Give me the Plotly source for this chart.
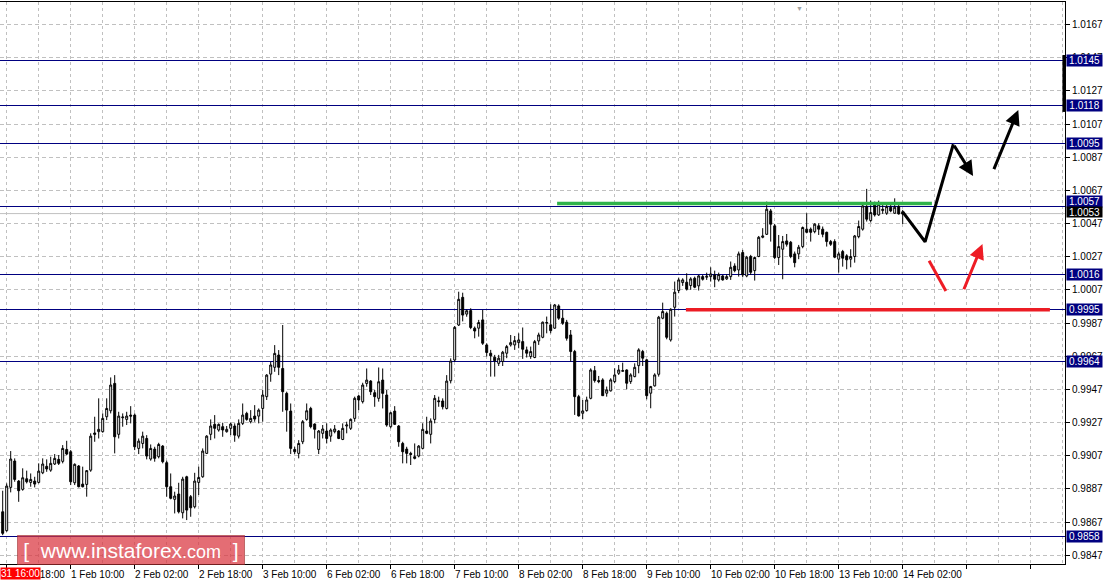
import plotly.graph_objects as go

# ---------------- data (H1 candles) ----------------
opens = [
    0.98732, 0.98618, 0.98879, 0.99038, 0.98917, 0.98867, 0.98931, 0.98909, 0.98917, 0.98909,
    0.98967, 0.99006, 0.98983, 0.99020, 0.99048, 0.99036, 0.99108, 0.99094, 0.98907, 0.99008,
    0.98899, 0.98897, 0.98983, 0.99207, 0.99215, 0.99215, 0.99305, 0.99341, 0.99506, 0.99199,
    0.99299, 0.99289, 0.99315, 0.99315, 0.99114, 0.99144, 0.99174, 0.99050, 0.99110, 0.99064,
    0.99128, 0.99028, 0.98883, 0.98807, 0.98839, 0.98726, 0.98943, 0.98823, 0.98762, 0.98909,
    0.98943, 0.99084, 0.99199, 0.99259, 0.99225, 0.99245, 0.99215, 0.99235, 0.99249, 0.99188,
    0.99265, 0.99325, 0.99275, 0.99309, 0.99309, 0.99355, 0.99426, 0.99562, 0.99603, 0.99677,
    0.99596, 0.99446, 0.99339, 0.99108, 0.99084, 0.99154, 0.99289, 0.99355, 0.99261, 0.99108,
    0.99205, 0.99219, 0.99188, 0.99215, 0.99219, 0.99168, 0.99249, 0.99235, 0.99295, 0.99430,
    0.99396, 0.99506, 0.99520, 0.99450, 0.99416, 0.99526, 0.99436, 0.99245, 0.99339, 0.99249,
    0.99144, 0.99110, 0.99084, 0.99064, 0.99068, 0.99114, 0.99219, 0.99199, 0.99289, 0.99401,
    0.99400, 0.99355, 0.99522, 0.99647, 0.99858, 1.00025, 0.99924, 0.99945, 0.99839, 0.99839,
    0.99889, 0.99738, 0.99688, 0.99664, 0.99627, 0.99638, 0.99688, 0.99738, 0.99738, 0.99752,
    0.99758, 0.99708, 0.99668, 0.99662, 0.99762, 0.99784, 0.99869, 0.99859, 0.99839, 0.99973,
    0.99899, 0.99875, 0.99798, 0.99698, 0.99426, 0.99326, 0.99342, 0.99416, 0.99583, 0.99523,
    0.99527, 0.99447, 0.99461, 0.99517, 0.99567, 0.99579, 0.99587, 0.99517, 0.99547, 0.99613,
    0.99698, 0.99648, 0.99447, 0.99491, 0.99561, 0.99899, 0.99929, 0.99768, 0.99965, 1.00066,
    1.00114, 1.00116, 1.00096, 1.00140, 1.00094, 1.00150, 1.00146, 1.00150, 1.00160, 1.00130,
    1.00154, 1.00136, 1.00150, 1.00214, 1.00190, 1.00295, 1.00154, 1.00271, 1.00186, 1.00271,
    1.00387, 1.00405, 1.00546, 1.00456, 1.00265, 1.00315, 1.00365, 1.00357, 1.00287, 1.00287,
    1.00331, 1.00436, 1.00436, 1.00421, 1.00456, 1.00436, 1.00417, 1.00361, 1.00361, 1.00255,
    1.00301, 1.00275, 1.00255, 1.00271, 1.00391, 1.00436, 1.00572, 1.00488, 1.00582, 1.00522,
    1.00548, 1.00532, 1.00568, 1.00532, 1.00572, 1.00541,
]
highs = [
    0.98859, 0.98903, 0.99098, 0.99054, 0.98923, 0.98994, 0.98980, 0.98963, 0.98943, 0.99024,
    0.99054, 0.99048, 0.99064, 0.99080, 0.99074, 0.99134, 0.99160, 0.99104, 0.99024, 0.99014,
    0.99004, 0.98983, 0.99205, 0.99305, 0.99416, 0.99325, 0.99416, 0.99542, 0.99556, 0.99335,
    0.99325, 0.99335, 0.99369, 0.99325, 0.99174, 0.99215, 0.99194, 0.99138, 0.99124, 0.99148,
    0.99134, 0.99040, 0.98963, 0.98853, 0.98907, 0.98943, 0.98949, 0.98833, 0.98967, 0.99004,
    0.99114, 0.99194, 0.99289, 0.99315, 0.99265, 0.99269, 0.99249, 0.99269, 0.99265, 0.99289,
    0.99385, 0.99335, 0.99345, 0.99375, 0.99355, 0.99466, 0.99562, 0.99637, 0.99737, 0.99707,
    0.99858, 0.99456, 0.99385, 0.99124, 0.99164, 0.99285, 0.99385, 0.99365, 0.99265, 0.99225,
    0.99255, 0.99265, 0.99235, 0.99255, 0.99225, 0.99265, 0.99275, 0.99295, 0.99426, 0.99436,
    0.99510, 0.99596, 0.99526, 0.99466, 0.99602, 0.99596, 0.99466, 0.99335, 0.99369, 0.99255,
    0.99154, 0.99124, 0.99094, 0.99144, 0.99134, 0.99265, 0.99305, 0.99295, 0.99436, 0.99426,
    0.99416, 0.99556, 0.99657, 0.99852, 1.00059, 1.00053, 0.99952, 0.99959, 0.99849, 0.99889,
    0.99949, 0.99748, 0.99708, 0.99678, 0.99678, 0.99702, 0.99738, 0.99798, 0.99792, 0.99808,
    0.99843, 0.99728, 0.99728, 0.99768, 0.99812, 0.99879, 0.99909, 0.99983, 0.99985, 0.99983,
    0.99949, 0.99889, 0.99828, 0.99708, 0.99437, 0.99406, 0.99426, 0.99597, 0.99611, 0.99551,
    0.99537, 0.99487, 0.99537, 0.99597, 0.99617, 0.99631, 0.99591, 0.99567, 0.99627, 0.99718,
    0.99708, 0.99652, 0.99491, 0.99567, 0.99913, 0.99993, 0.99939, 0.99959, 1.00120, 1.00144,
    1.00140, 1.00170, 1.00146, 1.00150, 1.00160, 1.00160, 1.00174, 1.00206, 1.00186, 1.00174,
    1.00160, 1.00164, 1.00241, 1.00230, 1.00301, 1.00311, 1.00275, 1.00281, 1.00271, 1.00395,
    1.00442, 1.00602, 1.00558, 1.00468, 1.00401, 1.00395, 1.00407, 1.00365, 1.00301, 1.00341,
    1.00452, 1.00532, 1.00446, 1.00472, 1.00472, 1.00452, 1.00421, 1.00371, 1.00375, 1.00301,
    1.00311, 1.00285, 1.00315, 1.00401, 1.00488, 1.00588, 1.00679, 1.00608, 1.00602, 1.00608,
    1.00588, 1.00588, 1.00586, 1.00622, 1.00588, 1.00552,
]
lows = [
    0.98591, 0.98612, 0.98849, 0.98913, 0.98792, 0.98859, 0.98903, 0.98883, 0.98879, 0.98903,
    0.98959, 0.98973, 0.98973, 0.99014, 0.99014, 0.99024, 0.99074, 0.98893, 0.98893, 0.98879,
    0.98879, 0.98823, 0.98973, 0.99154, 0.99174, 0.99209, 0.99285, 0.99325, 0.99084, 0.99174,
    0.99245, 0.99255, 0.99265, 0.99104, 0.99080, 0.99114, 0.99048, 0.99040, 0.99034, 0.99054,
    0.99024, 0.98823, 0.98807, 0.98722, 0.98722, 0.98692, 0.98682, 0.98702, 0.98752, 0.98833,
    0.98937, 0.99080, 0.99164, 0.99174, 0.99215, 0.99184, 0.99209, 0.99194, 0.99154, 0.99174,
    0.99255, 0.99281, 0.99265, 0.99275, 0.99265, 0.99275, 0.99406, 0.99516, 0.99576, 0.99556,
    0.99335, 0.99215, 0.99080, 0.99080, 0.99054, 0.99140, 0.99281, 0.99235, 0.99174, 0.99080,
    0.99174, 0.99144, 0.99154, 0.99205, 0.99170, 0.99164, 0.99205, 0.99225, 0.99275, 0.99345,
    0.99385, 0.99486, 0.99436, 0.99365, 0.99396, 0.99355, 0.99245, 0.99235, 0.99255, 0.99124,
    0.99024, 0.99024, 0.99014, 0.99048, 0.99060, 0.99108, 0.99200, 0.99144, 0.99265, 0.99365,
    0.99349, 0.99349, 0.99506, 0.99637, 0.99852, 0.99880, 0.99908, 0.99833, 0.99778, 0.99788,
    0.99738, 0.99668, 0.99547, 0.99547, 0.99611, 0.99611, 0.99658, 0.99728, 0.99708, 0.99718,
    0.99654, 0.99662, 0.99654, 0.99658, 0.99738, 0.99778, 0.99808, 0.99808, 0.99835, 0.99889,
    0.99859, 0.99764, 0.99638, 0.99316, 0.99306, 0.99290, 0.99336, 0.99410, 0.99511, 0.99507,
    0.99430, 0.99426, 0.99457, 0.99507, 0.99557, 0.99577, 0.99471, 0.99503, 0.99543, 0.99567,
    0.99611, 0.99410, 0.99356, 0.99487, 0.99547, 0.99893, 0.99772, 0.99758, 0.99909, 1.00050,
    1.00094, 1.00066, 1.00070, 1.00080, 1.00066, 1.00126, 1.00130, 1.00120, 1.00086, 1.00120,
    1.00126, 1.00130, 1.00130, 1.00176, 1.00150, 1.00146, 1.00146, 1.00160, 1.00126, 1.00267,
    1.00381, 1.00401, 1.00361, 1.00255, 1.00220, 1.00134, 1.00331, 1.00261, 1.00206, 1.00255,
    1.00321, 1.00411, 1.00361, 1.00411, 1.00401, 1.00387, 1.00331, 1.00335, 1.00261, 1.00174,
    1.00210, 1.00194, 1.00206, 1.00234, 1.00381, 1.00427, 1.00482, 1.00476, 1.00512, 1.00516,
    1.00528, 1.00522, 1.00538, 1.00528, 1.00524, 1.00467,
]
closes = [
    0.98602, 0.98887, 0.99050, 0.98927, 0.98859, 0.98937, 0.98913, 0.98927, 0.98899, 0.98977,
    0.99020, 0.98990, 0.99024, 0.99054, 0.99024, 0.99114, 0.99080, 0.98913, 0.99018, 0.98883,
    0.98883, 0.98980, 0.99188, 0.99199, 0.99229, 0.99295, 0.99355, 0.99496, 0.99184, 0.99309,
    0.99303, 0.99309, 0.99309, 0.99124, 0.99158, 0.99188, 0.99068, 0.99114, 0.99054, 0.99138,
    0.99034, 0.98883, 0.98813, 0.98827, 0.98732, 0.98929, 0.98742, 0.98756, 0.98917, 0.98939,
    0.99098, 0.99188, 0.99249, 0.99235, 0.99259, 0.99225, 0.99229, 0.99261, 0.99194, 0.99265,
    0.99315, 0.99289, 0.99295, 0.99291, 0.99345, 0.99436, 0.99556, 0.99617, 0.99687, 0.99603,
    0.99456, 0.99345, 0.99114, 0.99094, 0.99144, 0.99275, 0.99341, 0.99245, 0.99229, 0.99219,
    0.99231, 0.99174, 0.99225, 0.99231, 0.99174, 0.99235, 0.99255, 0.99289, 0.99416, 0.99406,
    0.99496, 0.99526, 0.99456, 0.99426, 0.99516, 0.99446, 0.99255, 0.99329, 0.99259, 0.99154,
    0.99094, 0.99084, 0.99078, 0.99054, 0.99128, 0.99229, 0.99205, 0.99279, 0.99416, 0.99396,
    0.99365, 0.99520, 0.99641, 0.99844, 1.00013, 0.99918, 0.99944, 0.99843, 0.99822, 0.99873,
    0.99748, 0.99692, 0.99672, 0.99642, 0.99658, 0.99694, 0.99728, 0.99752, 0.99764, 0.99768,
    0.99712, 0.99688, 0.99698, 0.99758, 0.99798, 0.99875, 0.99873, 0.99824, 0.99979, 0.99899,
    0.99869, 0.99778, 0.99698, 0.99426, 0.99310, 0.99340, 0.99406, 0.99587, 0.99523, 0.99517,
    0.99432, 0.99467, 0.99527, 0.99557, 0.99587, 0.99583, 0.99507, 0.99557, 0.99603, 0.99708,
    0.99658, 0.99432, 0.99487, 0.99557, 0.99905, 0.99939, 0.99784, 0.99953, 1.00056, 1.00130,
    1.00130, 1.00074, 1.00136, 1.00086, 1.00154, 1.00134, 1.00152, 1.00166, 1.00134, 1.00162,
    1.00130, 1.00150, 1.00206, 1.00186, 1.00287, 1.00160, 1.00267, 1.00176, 1.00265, 1.00387,
    1.00395, 1.00556, 1.00466, 1.00265, 1.00331, 1.00361, 1.00345, 1.00271, 1.00234, 1.00327,
    1.00446, 1.00417, 1.00417, 1.00466, 1.00436, 1.00405, 1.00361, 1.00345, 1.00267, 1.00287,
    1.00261, 1.00251, 1.00271, 1.00395, 1.00452, 1.00576, 1.00496, 1.00536, 1.00522, 1.00586,
    1.00556, 1.00572, 1.00546, 1.00568, 1.00528, 1.00527,
]
bar_index = list(range(len(opens)))

x_tick_bars = [1, 17, 33, 49, 65, 81, 97, 113, 129, 145, 161, 177, 193, 209, 225]
x_tick_labels = ["31 Jan 18:00", "1 Feb 10:00", "2 Feb 02:00", "2 Feb 18:00", "3 Feb 10:00",
                 "6 Feb 02:00", "6 Feb 18:00", "7 Feb 10:00", "8 Feb 02:00", "8 Feb 18:00",
                 "9 Feb 10:00", "10 Feb 02:00", "10 Feb 18:00", "13 Feb 10:00", "14 Feb 02:00"]
y_ticks = [0.9847, 0.9867, 0.9887, 0.9907, 0.9927, 0.9947, 0.9967, 0.9987, 1.0007,
           1.0027, 1.0047, 1.0067, 1.0087, 1.0107, 1.0127, 1.0147, 1.0167]

levels = [1.0145, 1.0118, 1.0095, 1.0057, 1.0016, 0.9995, 0.9964, 0.9858]
level_label_shift = [0, 0, 0, 5, 0, 0, 0, 0]
bid_price = 1.0053

# drawn analysis objects (bar index, price)
green_x, green_y = [138.6, 232.3], [1.0059, 1.0059]
red_x, red_y = [170.8, 261.8], [0.9995, 0.9995]
path_x, path_y = [225, 230.6, 237.65], [1.0054, 1.0036, 1.00948]
path_tip = (242.6, 1.00757)
up_arrow_tail, up_arrow_tip = (247.65, 1.00789), (253.9, 1.01155)
red_seg_x, red_seg_y = [231.6, 235.8], [1.00246, 1.00063]
red_arrow_tail, red_arrow_tip = (240.15, 1.00065), (244.95, 1.00347)
right_bar_y = [1.01143, 1.01486]

FONT = "Liberation Sans"
NAVY = "#000080"
GRID = "#c0c0c0"
Y_RANGE = [0.984171, 1.018057]

fig = go.Figure()
# invisible trace that activates the overlay axis used for crisp level lines
fig.add_trace(go.Scatter(x=[None], y=[None], yaxis="y2", showlegend=False, hoverinfo="skip"))
fig.add_trace(go.Candlestick(
    x=bar_index, open=opens, high=highs, low=lows, close=closes,
    increasing=dict(line=dict(color="black", width=1), fillcolor="white"),
    decreasing=dict(line=dict(color="black", width=1), fillcolor="black"),
    whiskerwidth=0, showlegend=False, hoverinfo="skip"))

fig.add_trace(go.Scatter(x=green_x, y=green_y, mode="lines",
                         line=dict(color="#2fb34a", width=3.5), showlegend=False, hoverinfo="skip"))
fig.add_trace(go.Scatter(x=red_x, y=red_y, mode="lines",
                         line=dict(color="#ec1c24", width=3.5), showlegend=False, hoverinfo="skip"))
fig.add_trace(go.Scatter(x=path_x, y=path_y, mode="lines",
                         line=dict(color="black", width=3), showlegend=False, hoverinfo="skip"))
fig.add_trace(go.Scatter(x=red_seg_x, y=red_seg_y, mode="lines",
                         line=dict(color="#ee1c25", width=3), showlegend=False, hoverinfo="skip"))

shapes = [
    dict(type="line", xref="paper", x0=0, x1=1, yref="y", y0=bid_price, y1=bid_price,
         line=dict(color=GRID, width=1), layer="between"),
    dict(type="line", xref="paper", x0=0.9990, x1=0.9990, yref="y",
         y0=right_bar_y[0], y1=right_bar_y[1], line=dict(color="black", width=3)),
]

annotations = []
for tail, tip, col in [((path_x[-1], path_y[-1]), path_tip, "black"),
                       (up_arrow_tail, up_arrow_tip, "black"),
                       (red_arrow_tail, red_arrow_tip, "#ee1c25")]:
    annotations.append(dict(x=tip[0], y=tip[1], ax=tail[0], ay=tail[1], xref="x", yref="y",
                            axref="x", ayref="y", text="", showarrow=True, arrowhead=2,
                            arrowsize=1, arrowwidth=3, arrowcolor=col, standoff=0))
for b, t in zip(x_tick_bars, x_tick_labels):
    annotations.append(dict(x=b, y=0, xref="x", yref="paper", text=t, showarrow=False,
                            xanchor="left", yanchor="top", xshift=-2, yshift=-3,
                            font=dict(family=FONT, size=10, color="black")))
annotations.append(dict(x=0, y=0, xref="paper", yref="paper", text="31 16:00", showarrow=False,
                        xanchor="left", yanchor="top", yshift=-3, bgcolor="#ff0000", borderpad=0,
                        font=dict(family=FONT, size=10, color="white")))
for lv, sh in zip(levels, level_label_shift):
    annotations.append(dict(x=1, y=lv, xref="paper", yref="y", text=f"{lv:.4f}", showarrow=False,
                            xanchor="left", yanchor="middle", xshift=1, yshift=sh, width=35, height=11,
                            bgcolor=NAVY, borderpad=0, font=dict(family=FONT, size=10, color="white")))
annotations.append(dict(x=1, y=bid_price, xref="paper", yref="y", text=f"{bid_price:.4f}",
                        showarrow=False, xanchor="left", yanchor="middle", xshift=1, yshift=2,
                        width=35, height=10, bgcolor="black", borderpad=0,
                        font=dict(family=FONT, size=10, color="white")))
annotations.append(dict(x=199.3, y=1, xref="x", yref="paper", text="▼", showarrow=False,
                        yanchor="top", font=dict(size=7, color="#a0a0a0")))
annotations.append(dict(x=0.016, y=0.0258, xref="paper", yref="paper", showarrow=False,
                        xanchor="left", yanchor="middle", width=224, height=26,
                        text="[  www.instaforex<span style='font-size:18px'>.com</span>  ]",
                        bgcolor="rgba(218,52,62,0.72)", bordercolor="rgba(150,40,40,0.55)",
                        borderwidth=1, font=dict(family=FONT, size=21, color="white")))

fig.update_layout(
    width=1105, height=587,
    margin=dict(l=0, r=40, t=2, b=23, autoexpand=False),
    paper_bgcolor="white", plot_bgcolor="white",
    shapes=shapes, annotations=annotations,
    showlegend=False,
    xaxis=dict(range=[-0.675, 265.575], rangeslider=dict(visible=False), automargin=False,
               tickmode="linear", tick0=1, dtick=16, ticks="outside", ticklen=4,
               tickcolor="black", showticklabels=False,
               showgrid=True, gridcolor=GRID, griddash="3px,3px", gridwidth=1,
               minor=dict(tick0=1, dtick=8, showgrid=True, gridcolor=GRID,
                          griddash="3px,3px", ticks=""),
               showline=True, mirror=True, linecolor="black", linewidth=1, zeroline=False),
    yaxis=dict(range=Y_RANGE, side="right", tickmode="array", automargin=False,
               tickvals=y_ticks, ticktext=[f"{v:.4f}" for v in y_ticks],
               ticks="outside", ticklen=4, tickcolor="black",
               tickfont=dict(family=FONT, size=10, color="black"),
               showgrid=True, gridcolor=GRID, griddash="4px,3px", gridwidth=1,
               showline=True, mirror=True, linecolor="black", linewidth=1, zeroline=False),
    yaxis2=dict(range=Y_RANGE, overlaying="y", side="right", tickmode="array", automargin=False,
                tickvals=levels, showticklabels=False, ticks="", showline=False,
                showgrid=True, gridcolor=NAVY, gridwidth=1, zeroline=False),
)

fig.write_html("out.html", config={"displayModeBar": False},
               post_script="document.body.style.margin='0';document.body.style.overflow='hidden';")
